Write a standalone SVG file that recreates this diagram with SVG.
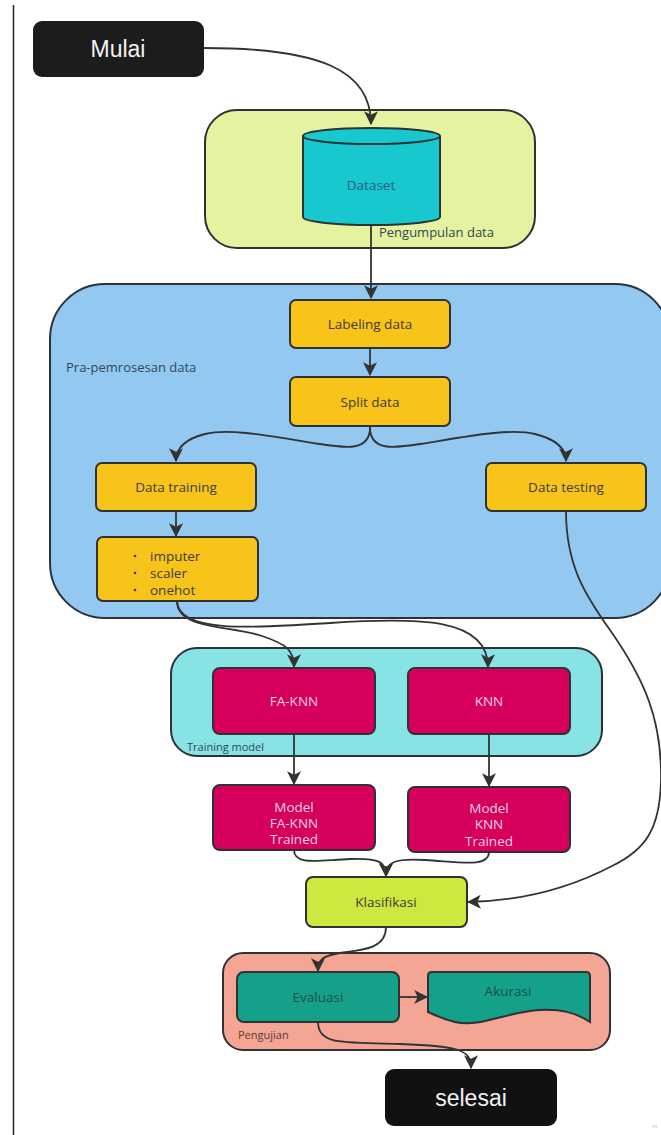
<svg xmlns="http://www.w3.org/2000/svg" width="661" height="1135" viewBox="0 0 661 1135">
<defs>
<marker id="ah" markerUnits="userSpaceOnUse" markerWidth="14" markerHeight="14" viewBox="0 0 12 12" refX="11" refY="6" orient="auto">
<path d="M0,0 L12,6 L0,12 L3,6 z" fill="#333"/>
</marker>
<style>
.grp{stroke:#2e3236;stroke-width:2}
.node{stroke:#2e3236;stroke-width:2}
.yel{fill:#f8c41a}
.mag{fill:#d6005c}
.t{font-family:"Open Sans","Noto Sans",sans-serif;font-size:13.5px;text-anchor:middle;dominant-baseline:central}
.dark{fill:#3b3b3b}
.pink{fill:#f6d3e2}
.gl{font-family:"Open Sans","Noto Sans",sans-serif;font-size:13px;fill:#2f4858}
.term{font-family:"Liberation Sans",Arial,sans-serif;font-size:23px;fill:#f2f2f2;text-anchor:middle;dominant-baseline:central}
.c{fill:none;stroke:#333;stroke-width:1.8;marker-end:url(#ah)}
</style>
</defs>
<rect width="661" height="1135" fill="#ffffff"/>
<line x1="13.5" y1="5" x2="13.5" y2="1135" stroke="#222" stroke-width="1.5"/>

<g id="grp-pengumpulan">
<rect class="grp" x="205" y="110" width="330" height="138" rx="32" fill="#e5f29f"/>
<text class="gl" x="379" y="237">Pengumpulan data</text>
</g>
<g id="grp-pra">
<rect class="grp" x="50" y="284" width="620" height="334" rx="55" fill="#93c9f1"/>
<text class="gl" x="66" y="372">Pra-pemrosesan data</text>
</g>
<g id="grp-training">
<rect class="grp" x="171" y="648" width="431" height="108" rx="26" fill="#87e3e4"/>
<text class="gl" x="187" y="751" style="font-size:11px">Training model</text>
</g>
<g id="grp-pengujian">
<rect class="grp" x="223" y="953" width="387" height="97" rx="20" fill="#f4a593"/>
<text class="gl" x="238" y="1039" style="font-size:11px;fill:#5a3a34">Pengujian</text>
</g>

<g id="connectors">
<path class="c" d="M204,48 C320,48 371,70 371,124"/>
<path class="c" d="M371,225 L371,298"/>
<path class="c" d="M370,348 L370,375"/>
<path class="c" d="M370,426 C371,452 345,448 320,444 C270,436 230,428 205,434 C185,439 176,448 176,461"/>
<path class="c" d="M370,426 C369,452 395,448 420,444 C470,436 510,428 535,434 C555,439 566,448 566,461"/>
<path class="c" d="M176,511 L176,536"/>
<path class="c" d="M177,601 C177,630 230,625 262,636 C286,644 294,650 294,667"/>
<path class="c" d="M177,601 C178,633 250,628 330,623 C420,617 488,618 488,667"/>
<path class="c" d="M294,734 L294,784"/>
<path class="c" d="M489,734 L489,786"/>
<path class="c" d="M294,850 C294,866 320,860 350,859 C380,858 386,862 386,876"/>
<path class="c" d="M489,852 C489,868 460,862 425,860 C395,858 386,862 386,876"/>
<path class="c" d="M566,511 C566,565 585,595 610,630 C645,680 662,720 661,780 C660,830 645,850 612,866 C570,888 520,901 468,902"/>
<path class="c" d="M386,927 C386,950 360,950 340,953 C322,956 318,960 318,971"/>
<path class="c" d="M399,997 L427,997"/>
<path class="c" d="M318,1022 C318,1046 345,1042 400,1044 C460,1046 471,1050 471,1068"/>
</g>

<g id="mulai">
<rect x="33" y="21" width="171" height="56" rx="9" fill="#1c1c1c"/>
<text class="term" x="118" y="49">Mulai</text>
</g>
<g id="dataset">
<path class="node" d="M303,136 L303,217 A68.5,8 0 0 0 440,217 L440,136" fill="#17c8cf"/>
<ellipse class="node" cx="371.5" cy="136" rx="68.5" ry="8" fill="#17c8cf"/>
<text class="t" x="371" y="185" style="fill:#245f80">Dataset</text>
</g>
<g id="labeling">
<rect class="node yel" x="290" y="300" width="160" height="48" rx="6"/>
<text class="t dark" x="370" y="324">Labeling data</text>
</g>
<g id="split">
<rect class="node yel" x="290" y="377" width="160" height="49" rx="6"/>
<text class="t dark" x="370" y="402">Split data</text>
</g>
<g id="training">
<rect class="node yel" x="96" y="463" width="160" height="48" rx="6"/>
<text class="t dark" x="176" y="487">Data training</text>
</g>
<g id="testing">
<rect class="node yel" x="486" y="463" width="160" height="48" rx="6"/>
<text class="t dark" x="566" y="487">Data testing</text>
</g>
<g id="preproc">
<rect class="node yel" x="97" y="537" width="161" height="64" rx="6"/>
<circle cx="135" cy="556" r="1.3" fill="#3b3b3b"/>
<circle cx="135" cy="573" r="1.3" fill="#3b3b3b"/>
<circle cx="135" cy="590" r="1.3" fill="#3b3b3b"/>
<text class="t dark" x="150" y="556" style="text-anchor:start">imputer</text>
<text class="t dark" x="150" y="573" style="text-anchor:start">scaler</text>
<text class="t dark" x="150" y="590" style="text-anchor:start">onehot</text>
</g>
<g id="faknn">
<rect class="node mag" x="213" y="668" width="162" height="66" rx="7"/>
<text class="t pink" x="294" y="701">FA-KNN</text>
</g>
<g id="knn">
<rect class="node mag" x="408" y="668" width="162" height="66" rx="7"/>
<text class="t pink" x="489" y="701">KNN</text>
</g>
<g id="model-faknn">
<rect class="node mag" x="213" y="785" width="162" height="65" rx="7"/>
<text class="t pink" x="294" y="807">Model</text>
<text class="t pink" x="294" y="823">FA-KNN</text>
<text class="t pink" x="294" y="839">Trained</text>
</g>
<g id="model-knn">
<rect class="node mag" x="408" y="787" width="162" height="65" rx="7"/>
<text class="t pink" x="489" y="808">Model</text>
<text class="t pink" x="489" y="824">KNN</text>
<text class="t pink" x="489" y="841">Trained</text>
</g>
<g id="klasifikasi">
<rect class="node" x="306" y="877" width="161" height="50" rx="7" fill="#cfe83f"/>
<text class="t dark" x="386" y="902">Klasifikasi</text>
</g>
<g id="evaluasi">
<rect class="node" x="237" y="972" width="162" height="50" rx="7" fill="#15a08a"/>
<text class="t" x="318" y="997" style="fill:#1f4f4a">Evaluasi</text>
</g>
<g id="akurasi">
<path class="node" d="M432,972 L586,972 Q590,972 590,976 L590,1022 C575,1012 560,1009 540,1010 C505,1012 480,1028 455,1022 C442,1019 435,1015 428,1012 L428,976 Q428,972 432,972 Z" fill="#15a08a"/>
<text class="t" x="508" y="991" style="fill:#1f4f4a">Akurasi</text>
</g>
<g id="selesai">
<rect x="385" y="1069" width="172" height="57" rx="9" fill="#111111"/>
<text class="term" x="471" y="1098">selesai</text>
</g>
<text x="655" y="1128" style="font-family:'Liberation Sans',sans-serif;font-size:6px;fill:#bbbbbb;text-anchor:middle">m</text>
</svg>
